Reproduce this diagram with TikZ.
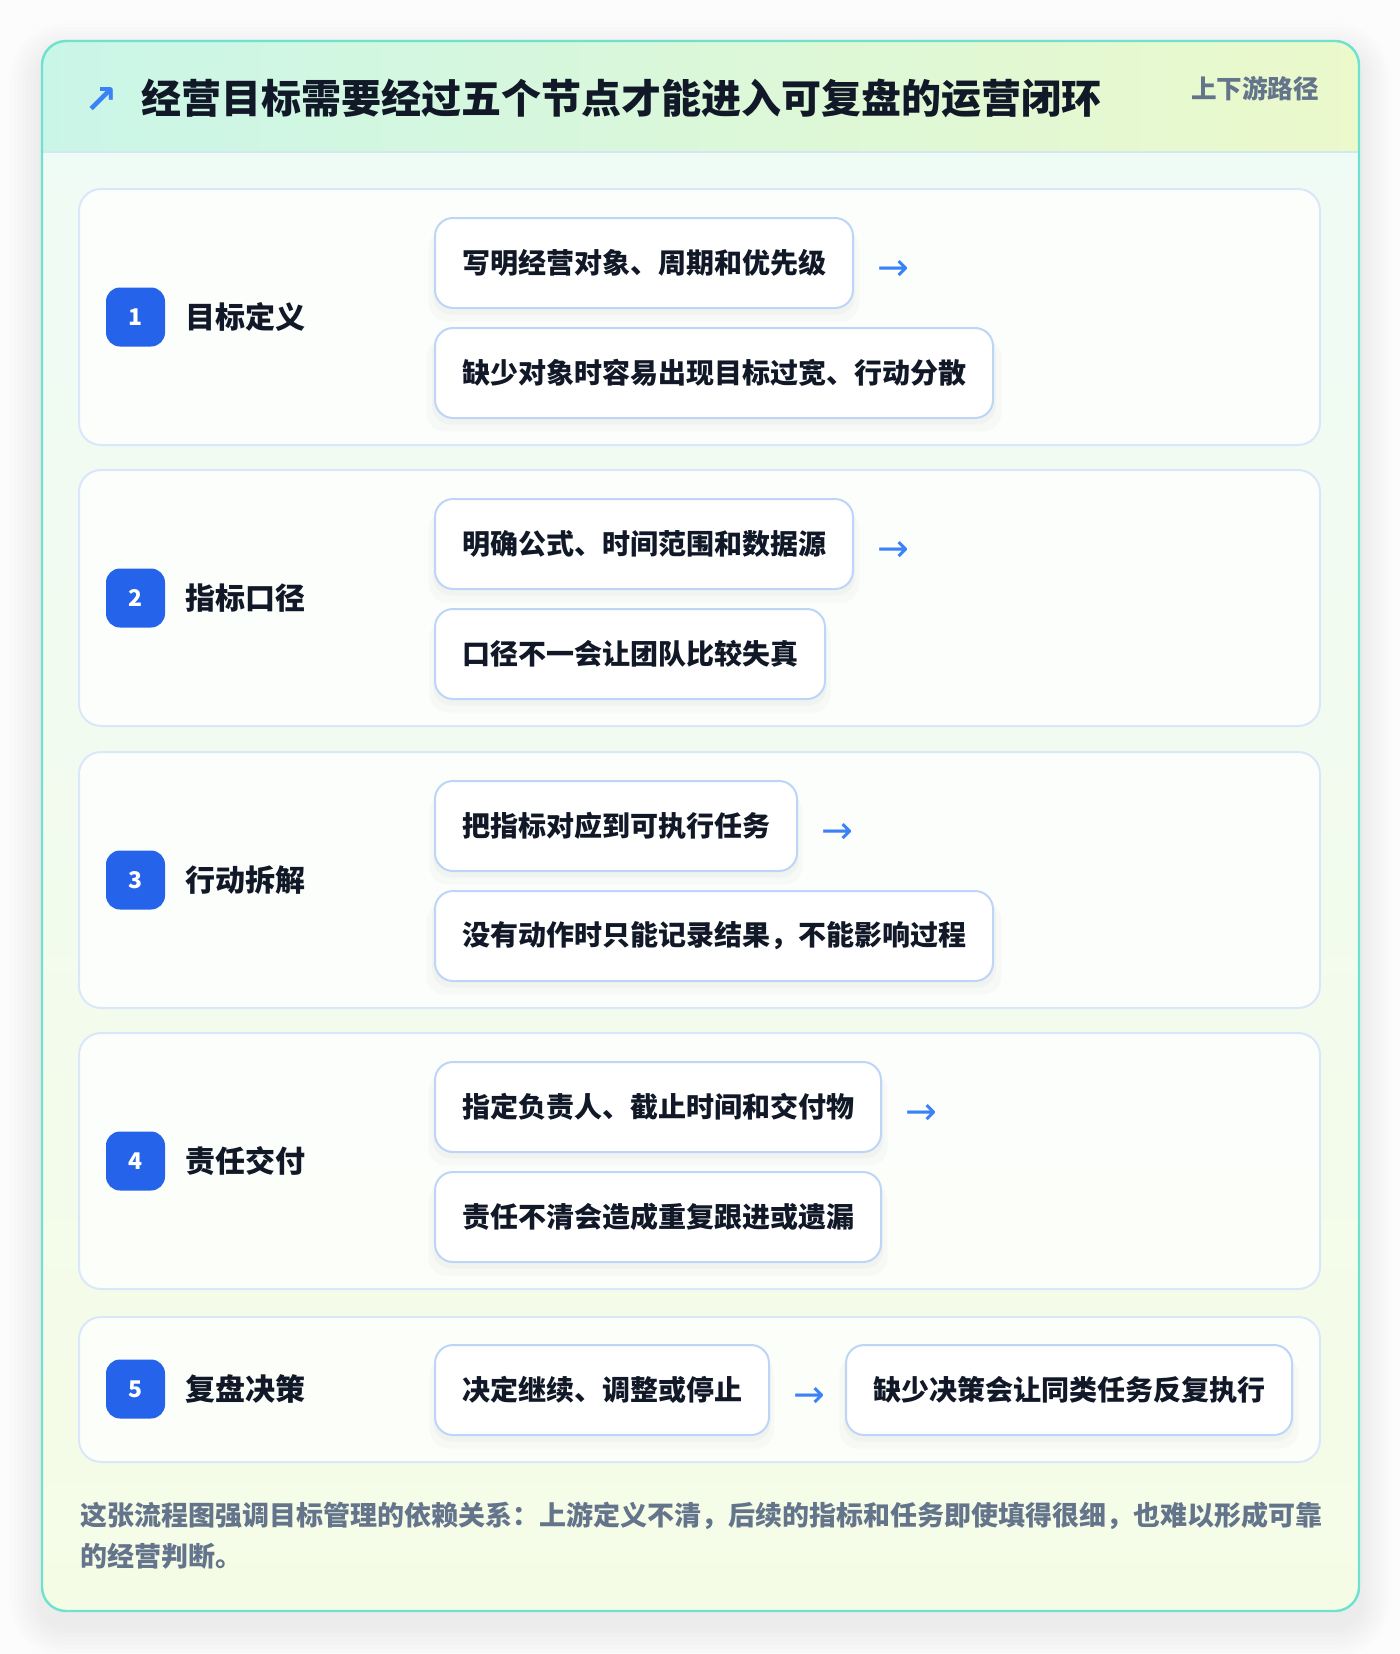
\documentclass[tikz,border=0pt]{standalone}
\usepackage{fontspec}
\setmainfont{Noto Sans CJK SC}
\newfontfamily\symfont{DejaVu Sans}
\usetikzlibrary{shadows}
\definecolor{pagebg}{HTML}{FCFCFC}
\definecolor{cardline}{HTML}{6EE2CF}
\definecolor{headL}{HTML}{CAF6E8}
\definecolor{headR}{HTML}{EBF9CB}
\definecolor{headline}{HTML}{D5E8F2}
\definecolor{cardtop}{HTML}{EFFBF6}
\definecolor{cardbot}{HTML}{F5FCE6}
\definecolor{rowline}{HTML}{DAE7FA}
\definecolor{stepline}{HTML}{BDD5F6}
\definecolor{badgeblue}{HTML}{2563EB}
\definecolor{ink}{HTML}{111827}
\definecolor{muted}{HTML}{64748B}
\definecolor{arrowblue}{HTML}{3B82F6}
\begin{document}
\begin{tikzpicture}[x=0.5pt,y=-0.5pt,line width=1pt]
        \tikzstyle{rowbox}=[draw=rowline,fill=white,fill opacity=0.8,rounded corners=11pt];
        \tikzstyle{badge}=[fill=badgeblue,text=white,rounded corners=7pt,minimum size=29.5pt,inner sep=0pt,font=\bfseries\fontsize{11.5}{11.5}\selectfont];
        \tikzstyle{lab}=[anchor=west,inner sep=0pt,text=ink,font=\bfseries\fontsize{15}{15}\selectfont];
        \tikzstyle{stepbox}=[draw=stepline,fill=white,rounded corners=9pt,anchor=north west,minimum height=45pt,inner xsep=13.5pt,text=ink,font=\bfseries\fontsize{14}{14}\selectfont,
          drop shadow={shadow xshift=0pt,shadow yshift=-3pt,shadow scale=1.01,fill=black,opacity=0.025},
          drop shadow={shadow xshift=0pt,shadow yshift=-6pt,shadow scale=1.03,fill=black,opacity=0.02}];
        \tikzstyle{nextarrow}=[anchor=west,inner sep=0pt,text=arrowblue,font=\symfont\fontsize{19}{19}\selectfont];
        \useasboundingbox (0,0) rectangle (1400,1654);
        \fill[pagebg] (0,0) rectangle (1400,1654);
        \foreach \d in {4,8,...,32}
          \fill[black,opacity=0.006,rounded corners=12pt+0.5*\d pt] (42-\d,41-\d+14) rectangle (1359+\d,1611+\d+14);
        \shade[top color=cardtop,bottom color=cardbot,rounded corners=12pt] (42,41) rectangle (1359,1611);
        \begin{scope}
          \clip[rounded corners=12pt] (42,41) rectangle (1359,1611);
          \shade[left color=headL,right color=headR] (42,41) rectangle (1359,152);
        \end{scope}
        \draw[headline] (42,152) -- (1359,152);
        \draw[cardline,line width=1.2pt,rounded corners=12pt] (42,41) rectangle (1359,1611);
        \node[text=arrowblue,font=\symfont\bfseries\fontsize{20}{20}\selectfont] (icon) at (101,100) {↗};
        \node[anchor=west,inner sep=0pt,text=ink,font=\bfseries\fontsize{20}{20}\selectfont] (title) at (140,98) {经营目标需要经过五个节点才能进入可复盘的运营闭环};
        \node[anchor=east,inner sep=0pt,text=muted,font=\bfseries\fontsize{12.8}{12.8}\selectfont] (tag) at (1320,89) {上下游路径};
        \draw[rowbox] (79,189) rectangle (1320,445);
        \draw[rowbox] (79,470) rectangle (1320,726);
        \draw[rowbox] (79,752) rectangle (1320,1008);
        \draw[rowbox] (79,1033) rectangle (1320,1289);
        \draw[rowbox] (79,1317) rectangle (1320,1462);
        \node[badge] (n1) at (135.5,317) {1};
        \node[lab] (t1) at (184,317) {目标定义};
        \node[stepbox] (a1) at (434,217) {写明经营对象、周期和优先级};
        \node[stepbox] (b1) at (434,327) {缺少对象时容易出现目标过宽、行动分散};
        \node[nextarrow] (r1) at ([xshift=11pt,yshift=-3.5pt]a1.east) {→};
        \node[badge] (n2) at (135.5,598) {2};
        \node[lab] (t2) at (184,598) {指标口径};
        \node[stepbox] (a2) at (434,498) {明确公式、时间范围和数据源};
        \node[stepbox] (b2) at (434,608) {口径不一会让团队比较失真};
        \node[nextarrow] (r2) at ([xshift=11pt,yshift=-3.5pt]a2.east) {→};
        \node[badge] (n3) at (135.5,880) {3};
        \node[lab] (t3) at (184,880) {行动拆解};
        \node[stepbox] (a3) at (434,780) {把指标对应到可执行任务};
        \node[stepbox] (b3) at (434,890) {没有动作时只能记录结果，不能影响过程};
        \node[nextarrow] (r3) at ([xshift=11pt,yshift=-3.5pt]a3.east) {→};
        \node[badge] (n4) at (135.5,1161) {4};
        \node[lab] (t4) at (184,1161) {责任交付};
        \node[stepbox] (a4) at (434,1061) {指定负责人、截止时间和交付物};
        \node[stepbox] (b4) at (434,1171) {责任不清会造成重复跟进或遗漏};
        \node[nextarrow] (r4) at ([xshift=11pt,yshift=-3.5pt]a4.east) {→};
        \node[badge] (n5) at (135.5,1389) {5};
        \node[lab] (t5) at (184,1389) {复盘决策};
        \node[stepbox] (a5) at (434,1344) {决定继续、调整或停止};
        \node[nextarrow] (r5) at ([xshift=11pt,yshift=-3.5pt]a5.east) {→};
        \node[stepbox] (b5) at (845,1344) {缺少决策会让同类任务反复执行};
        \node[anchor=north west,inner sep=0pt,text width=624pt,text=muted,font=\bfseries\fontsize{13.5}{20.5}\selectfont] (note) at (79,1501) {这张流程图强调目标管理的依赖关系：上游定义不清，后续的指标和任务即使填得很细，也难以形成可靠\\的经营判断。};
      \end{tikzpicture}
\end{document}
